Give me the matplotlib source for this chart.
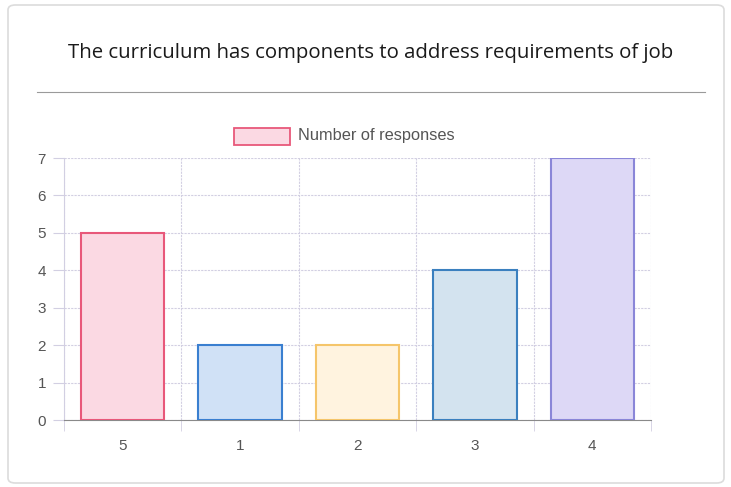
import matplotlib
matplotlib.use("Agg")
import matplotlib.pyplot as plt
from matplotlib.patches import Rectangle, FancyBboxPatch
from matplotlib.lines import Line2D

# chart data
categories = ["5", "1", "2", "3", "4"]
responses = [5, 2, 2, 4, 7]
fill_colors = ["#fbd9e3", "#d0e1f6", "#fff3df", "#d3e3ef", "#ddd8f6"]
edge_colors = ["#e8587a", "#3a7fd0", "#f5c56a", "#3b80bf", "#8a86d8"]
title = "The curriculum has components to address requirements of job"
legend_label = "Number of responses"

W, H = 731, 487
fig = plt.figure(figsize=(W / 100, H / 100), dpi=100)

# card border
fig.patches.append(FancyBboxPatch((8 / W, 4 / H), 716 / W, 478 / H,
                                  boxstyle="round,pad=0,rounding_size=0.01",
                                  transform=fig.transFigure, fill=False,
                                  edgecolor="#dcdcdc", linewidth=1.2))

fig.text(371 / W, 1 - 53 / H, title, ha="center", va="center",
         fontsize=14.7, family="Open Sans", color="#1a1a1a")
fig.lines.append(Line2D([37 / W, 705 / W], [1 - 92 / H, 1 - 92 / H],
                        transform=fig.transFigure, color="#9a9a9a", linewidth=0.8))

# legend box drawn by hand, like Chart.js
fig.patches.append(Rectangle((234 / W, 1 - 145 / H), 56 / W, 17 / H,
                             transform=fig.transFigure, facecolor=fill_colors[0],
                             edgecolor=edge_colors[0], linewidth=1.3))
fig.text(298 / W, 1 - 136 / H, legend_label, ha="left", va="center",
         fontsize=11.8, family="Liberation Sans", color="#555555")

ax = fig.add_axes([64 / W, 1 - 420 / H, 587 / W, 262 / H])
x = list(range(len(categories)))
ax.bar(x, responses, width=0.71, color=fill_colors, edgecolor=edge_colors,
       linewidth=1.5, zorder=3)

ax.set_xlim(-0.5, len(categories) - 0.5)
ax.set_ylim(0, 7)
ax.set_yticks(range(0, 8))
ax.set_xticks(x)
ax.set_xticklabels(categories)
ax.set_xticks([i - 0.5 for i in range(len(categories) + 1)], minor=True)

ax.grid(True, axis="y", color="#d2cfe2", linewidth=0.8, linestyle=(0, (2, 1)), zorder=0)
ax.grid(True, axis="x", which="minor", color="#d2cfe2", linewidth=0.8,
        linestyle=(0, (2, 1)), zorder=0)
ax.tick_params(axis="x", which="major", length=0, pad=14, labelsize=11,
               labelcolor="#555555")
ax.tick_params(axis="x", which="minor", length=8, color="#d2cfe2")
ax.tick_params(axis="y", length=8, color="#d2cfe2", pad=5, labelsize=11,
               labelcolor="#555555")
for lab in ax.get_xticklabels() + ax.get_yticklabels():
    lab.set_family("Liberation Sans")

for side in ["top", "right"]:
    ax.spines[side].set_visible(False)
ax.spines["left"].set_color("#d2cfe2")
ax.spines["bottom"].set_color("#8a8a8a")

fig.savefig("out.png", dpi=100)
